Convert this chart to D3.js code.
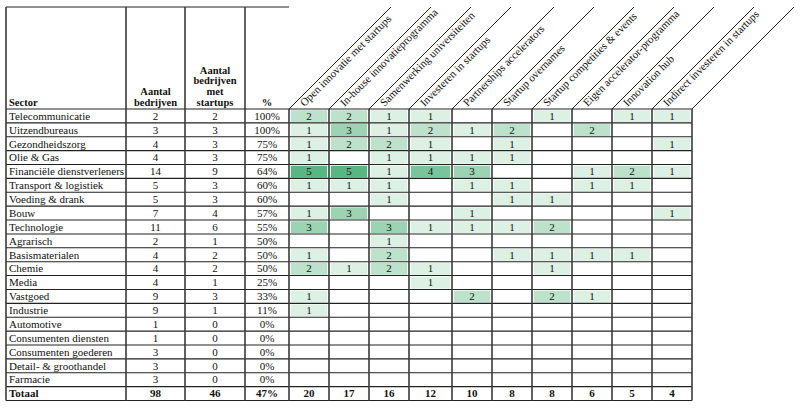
<!DOCTYPE html>
<html>
<head>
<meta charset="utf-8">
<script src="https://cdn.jsdelivr.net/npm/d3@7"></script>
<style>
  html, body { margin: 0; padding: 0; background: #fff; }
  svg { display: block; }
  text { font-family: "Liberation Serif", serif; fill: #111; }
</style>
</head>
<body>
<div id="chart"></div>
<script>
// ---------- DATA ----------
const sectors = ["Telecommunicatie","Uitzendbureaus","Gezondheidszorg","Olie & Gas","Financiële dienstverleners",
  "Transport & logistiek","Voeding & drank","Bouw","Technologie","Agrarisch","Basismaterialen","Chemie","Media",
  "Vastgoed","Industrie","Automotive","Consumenten diensten","Consumenten goederen","Detail- & groothandel","Farmacie"];
const aantalBedrijven = [2,3,4,4,14,5,5,7,11,2,4,4,4,9,9,1,1,3,3,3];
const metStartups     = [2,3,3,3,9,3,3,4,6,1,2,2,1,3,1,0,0,0,0,0];
const percentages     = ["100%","100%","75%","75%","64%","60%","60%","57%","55%","50%","50%","50%","25%","33%","11%","0%","0%","0%","0%","0%"];
const activities = ["Open innovatie met startups","In-house innovatieprogramma","Samenwerking universiteiten",
  "Investeren in startups","Partnerships accelerators","Startup overnames","Startup competities & events",
  "Eigen accelerator-programma","Innovation hub","Indirect investeren in startups"];
const matrix = [
  [2,2,1,1,null,null,1,null,1,1],
  [1,3,1,2,1,2,null,2,null,null],
  [1,2,2,1,null,1,null,null,null,1],
  [1,null,1,1,1,1,null,null,null,null],
  [5,5,1,4,3,null,null,1,2,1],
  [1,1,1,null,1,1,null,1,1,null],
  [null,null,1,null,null,1,1,null,null,null],
  [1,3,null,null,1,null,null,null,null,1],
  [3,null,3,1,1,1,2,null,null,null],
  [null,null,1,null,null,null,null,null,null,null],
  [1,null,2,null,null,1,1,1,1,null],
  [2,1,2,1,null,null,1,null,null,null],
  [null,null,null,1,null,null,null,null,null,null],
  [1,null,null,null,2,null,2,1,null,null],
  [1,null,null,null,null,null,null,null,null,null],
  [null,null,null,null,null,null,null,null,null,null],
  [null,null,null,null,null,null,null,null,null,null],
  [null,null,null,null,null,null,null,null,null,null],
  [null,null,null,null,null,null,null,null,null,null],
  [null,null,null,null,null,null,null,null,null,null]
];
const totalLabel = "Totaal";
const totalAantal = 98;
const totalMet = 46;
const totalPct = "47%";
const activityTotals = [20,17,16,12,10,8,8,6,5,4];
const headerSector = ["Sector"];
const headerAantal = ["Aantal", "bedrijven"];
const headerMet = ["Aantal", "bedrijven", "met", "startups"];
const headerPct = ["%"];

// ---------- LAYOUT ----------
const W = 800, H = 408;
const yTop = 7, headBottom = 109, yBottom = 400.5;
const leftEdges = [6, 126, 185, 245, 289];
const colWidths = [40, 40, 40, 43, 40, 40, 40, 40, 40, 40];
const colEdges = [289];
colWidths.forEach(w => colEdges.push(colEdges[colEdges.length-1] + w));
const skew = 102;

const svg = d3.select("#chart").append("svg").attr("width", W).attr("height", H);

const nRows = sectors.length + 1;
const y = d3.scaleBand().domain(d3.range(nRows)).range([headBottom, yBottom]).padding(0);
const xCol = d3.scaleOrdinal().domain(d3.range(activities.length)).range(colEdges.slice(0, -1));
const colW = i => colEdges[i+1] - colEdges[i];

const color = d3.scaleLinear().domain([1, 5]).range(["#ddf0e4", "#58b682"]).interpolate(d3.interpolateRgb);

// ---------- CELLS ----------
const cells = [];
matrix.forEach((row, r) => row.forEach((v, c) => { if (v != null) cells.push({r, c, v}); }));

const gCells = svg.append("g");
gCells.selectAll("rect").data(cells).join("rect")
  .attr("x", d => xCol(d.c) + 1.8)
  .attr("y", d => y(d.r) + 1.2)
  .attr("width", d => colW(d.c) - 3.6)
  .attr("height", y.bandwidth() - 2)
  .attr("fill", d => color(d.v));

gCells.selectAll("text").data(cells).join("text")
  .attr("x", d => xCol(d.c) + colW(d.c) / 2)
  .attr("y", d => y(d.r) + y.bandwidth() / 2 + 3.8)
  .attr("text-anchor", "middle")
  .attr("font-size", 11)
  .text(d => d.v);

// ---------- LEFT TABLE TEXT ----------
const gLeft = svg.append("g");
const rowsLeft = sectors.map((s, i) => ({s, a: aantalBedrijven[i], m: metStartups[i], p: percentages[i], bold: false}));
rowsLeft.push({s: totalLabel, a: totalAantal, m: totalMet, p: totalPct, bold: true});

const centers = [(leftEdges[1]+leftEdges[2])/2, (leftEdges[2]+leftEdges[3])/2, (leftEdges[3]+leftEdges[4])/2];

rowsLeft.forEach((d, i) => {
  const by = y(i) + y.bandwidth() / 2 + 3.8;
  const fw = d.bold ? "bold" : "normal";
  gLeft.append("text").attr("x", leftEdges[0] + 3).attr("y", by).attr("font-size", 11).attr("font-weight", fw).text(d.s);
  [d.a, d.m, d.p].forEach((v, k) => {
    gLeft.append("text").attr("x", centers[k]).attr("y", by).attr("text-anchor", "middle")
      .attr("font-size", 11).attr("font-weight", fw).text(v);
  });
});

activityTotals.forEach((v, c) => {
  gLeft.append("text").attr("x", xCol(c) + colW(c) / 2).attr("y", y(nRows-1) + y.bandwidth()/2 + 3.8)
    .attr("text-anchor", "middle").attr("font-size", 11).attr("font-weight", "bold").text(v);
});

// ---------- HEADERS ----------
const gHead = svg.append("g");
const hb = headBottom - 3;
const lineH = 10.8;
function stacked(lines, x, anchor) {
  lines.forEach((t, i) => gHead.append("text").attr("x", x).attr("y", hb - (lines.length-1-i)*lineH)
    .attr("text-anchor", anchor).attr("font-size", 10.5).attr("font-weight", "bold").text(t));
}
stacked(headerSector, leftEdges[0] + 3, "start");
stacked(headerAantal, centers[0], "middle");
stacked(headerMet, centers[1], "middle");
stacked(headerPct, centers[2], "middle");

// diagonal headers
svg.append("g").selectAll("text").data(activities).join("text")
  .attr("transform", (d, i) => `translate(${xCol(i) + 15.5},${headBottom - 2}) rotate(-45)`)
  .attr("font-size", 11)
  .text(d => d);

// ---------- GRID LINES ----------
const gGrid = svg.append("g").attr("fill", "none");
d3.range(nRows + 1).forEach(i => {
  const yy = i < nRows ? y(i) : yBottom;
  gGrid.append("line").attr("x1", leftEdges[0]).attr("x2", colEdges[colEdges.length-1])
    .attr("y1", yy).attr("y2", yy).attr("stroke", "#222").attr("stroke-width", 1.1);
});
gGrid.append("line").attr("x1", leftEdges[0]).attr("x2", leftEdges[4]).attr("y1", yTop).attr("y2", yTop)
  .attr("stroke", "#222").attr("stroke-width", 1.1);
leftEdges.slice(0, 4).forEach(x => {
  gGrid.append("line").attr("x1", x).attr("x2", x).attr("y1", yTop).attr("y2", yBottom)
    .attr("stroke", "#3a3a3a").attr("stroke-width", 1.6);
});
colEdges.forEach(x => {
  gGrid.append("line").attr("x1", x).attr("x2", x).attr("y1", headBottom).attr("y2", yBottom)
    .attr("stroke", "#3a3a3a").attr("stroke-width", 1.6);
});
colEdges.forEach(x => {
  gGrid.append("line").attr("x1", x).attr("y1", headBottom).attr("x2", x + skew).attr("y2", yTop)
    .attr("stroke", "#222").attr("stroke-width", 1);
});
</script>
</body>
</html>
